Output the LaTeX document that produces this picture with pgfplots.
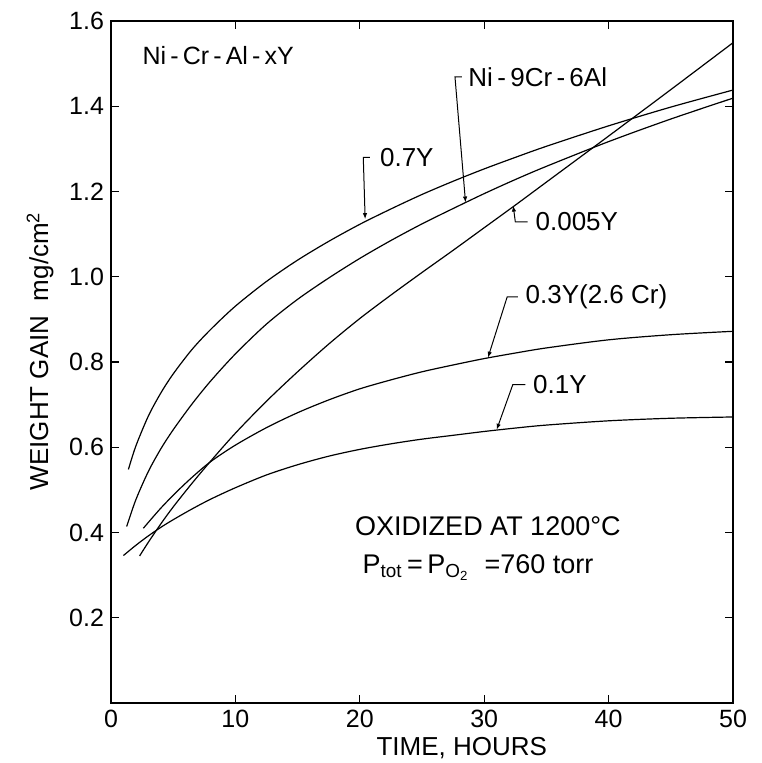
\documentclass[border=0pt]{standalone}
\usepackage{fontspec}
\setmainfont{Liberation Sans}
\usepackage{pgfplots}
\pgfplotsset{compat=1.18}
\usetikzlibrary{arrows.meta}

% 0.7Y
\pgfplotstableread{
x y
1.4 0.548
2 0.603
3 0.673
4 0.727
5 0.772
6.5 0.829
8 0.876
10 0.931
12.5 0.989
15 1.039
17.5 1.083
20 1.123
22.5 1.159
25 1.193
27.5 1.224
30 1.253
32.5 1.280
35 1.306
40 1.354
45 1.398
50 1.438
}\tabA

% Ni-9Cr-6Al
\pgfplotstableread{
x y
1.26 0.414
2 0.477
3 0.543
4 0.596
5 0.641
6.5 0.701
8 0.755
10 0.819
12.5 0.889
15 0.947
17.5 0.997
20 1.043
22.5 1.085
25 1.124
27.5 1.160
30 1.195
32.5 1.228
35 1.259
40 1.317
45 1.370
50 1.419
}\tabNi

% 0.005Y
\pgfplotstableread{
x y
2.3 0.345
3 0.377
4 0.420
5 0.460
6.5 0.515
8 0.567
10 0.633
12.5 0.708
15 0.777
17.5 0.842
20 0.902
22.5 0.957
25 1.010
27.5 1.062
30 1.115
32.5 1.168
35 1.222
40 1.330
45 1.439
50 1.549
}\tabC

% 0.3Y(2.6 Cr)
\pgfplotstableread{
x y
2.6 0.410
4 0.457
5.3 0.496
6.5 0.529
8 0.566
10 0.605
12.5 0.646
15 0.681
17.5 0.711
20 0.737
22.5 0.758
25 0.777
27.5 0.793
30 0.808
32.5 0.821
35 0.833
40 0.852
45 0.864
50 0.872
}\tabD

% 0.1Y
\pgfplotstableread{
x y
1 0.346
2 0.370
3 0.392
4 0.412
5 0.430
6.5 0.455
8 0.478
10 0.505
12.5 0.535
15 0.559
17.5 0.579
20 0.595
22.5 0.608
25 0.619
27.5 0.628
30 0.637
32.5 0.645
35 0.652
40 0.662
45 0.668
50 0.671
}\tabE

\begin{document}
\begin{tikzpicture}[x=1pt,y=1pt]
\useasboundingbox (-55.5,-30) rectangle (325,351.5);
\begin{axis}[
  at={(0,0)}, anchor=south west,
  scale only axis, width=311pt, height=341pt,
  xmin=0, xmax=50, ymin=0, ymax=1.6,
  xtick={0,10,20,30,40,50},
  ytick={0.2,0.4,0.6,0.8,1.0,1.2,1.4,1.6},
  yticklabel style={/pgf/number format/.cd, fixed, fixed zerofill, precision=1},
  /pgf/number format/assume math mode=true,
  tick align=inside, major tick length=4pt,
  axis line style={line width=0.9pt},
  tick style={line width=0.6pt, black},
  every tick label/.append style={font=\fontsize{12.5}{14}\selectfont},
  xlabel={TIME, HOURS},
  ylabel={WEIGHT GAIN\ \ mg/cm\textsuperscript{2}},
  xlabel style={at={(axis description cs:0.564,-0.066)}, anchor=center, font=\fontsize{13}{15}\selectfont},
  ylabel style={at={(axis description cs:-0.114,0.516)}, anchor=center, font=\fontsize{13}{15}\selectfont},
  clip=false,
]
\tikzset{crv/.style={black, line width=0.6pt, smooth, mark=none}}
\addplot[crv] table[x=x,y=y] {\tabA};
\addplot[crv] table[x=x,y=y] {\tabNi};
\addplot[crv] table[x=x,y=y] {\tabC};
\addplot[crv] table[x=x,y=y] {\tabD};
\addplot[crv] table[x=x,y=y] {\tabE};

\tikzset{lab/.style={anchor=west, inner sep=0pt, font=\fontsize{13}{15}\selectfont},
         lead/.style={line width=0.5pt, -{Latex[length=3pt,width=2.2pt]}}}
\node[lab, font=\fontsize{12.5}{15}\selectfont] at (axis cs:2.5,1.52) {Ni\,-\,Cr\,-\,Al\,-\,xY};
\node[lab] at (axis cs:28.7,1.469) {Ni\,-\,9Cr\,-\,6Al};
\node[lab] at (axis cs:21.6,1.28) {0.7Y};
\node[lab] at (axis cs:34.1,1.129) {0.005Y};
\node[lab] at (axis cs:33.3,0.953) {0.3Y(2.6 Cr)};
\node[lab] at (axis cs:33.9,0.747) {0.1Y};
\node[lab, font=\fontsize{13.5}{15}\selectfont] at (axis cs:19.6,0.414) {OXIDIZED AT 1200°C};
\node[lab, font=\fontsize{13.5}{15}\selectfont] at (axis cs:20.2,0.318) {P\textsubscript{tot}\,=\,P\textsubscript{O\textsubscript{2}}\ \ =760 torr};

\draw[lead] (axis cs:20.8,1.28) -- (axis cs:20.28,1.28) -- (axis cs:20.43,1.135);
\draw[lead] (axis cs:28.2,1.469) -- (axis cs:27.65,1.469) -- (axis cs:28.5,1.174);
\draw[lead] (axis cs:33.5,1.129) -- (axis cs:32.5,1.129) -- (axis cs:32.33,1.167);
\draw[lead] (axis cs:32.7,0.953) -- (axis cs:31.85,0.953) -- (axis cs:30.3,0.810);
\draw[lead] (axis cs:33.3,0.747) -- (axis cs:32.3,0.747) -- (axis cs:31.0,0.641);
\end{axis}
\end{tikzpicture}
\end{document}
